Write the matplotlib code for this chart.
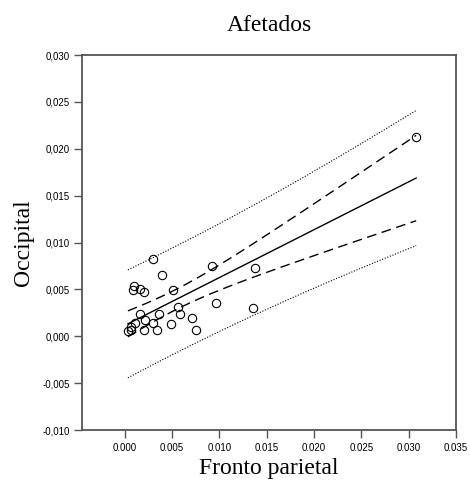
import matplotlib.pyplot as plt
import numpy as np

# Fronto parietal (x) vs Occipital (y)
fronto = [30.8, 3.0, 3.9, 1.0, 0.9, 1.6, 2.1, 5.1, 9.2, 13.8, 9.7, 13.6, 5.6,
          5.8, 7.1, 7.5, 4.9, 3.45, 3.6, 1.6, 2.2, 3.0, 1.06, 2.1, 0.63, 0.35, 0.7]
occipital = [21.3, 8.2, 6.5, 5.4, 4.9, 5.0, 4.7, 4.9, 7.5, 7.3, 3.5, 3.0, 3.1,
             2.4, 2.0, 0.7, 1.35, 0.7, 2.4, 2.4, 1.7, 1.4, 1.4, 0.64, 1.0, 0.57, 0.7]
x = np.array(fronto) / 1000
y = np.array(occipital) / 1000

xticks = [0.000, 0.005, 0.010, 0.015, 0.020, 0.025, 0.030, 0.035]
yticks = [-0.010, -0.005, 0.000, 0.005, 0.010, 0.015, 0.020, 0.025, 0.030]

# linear fit with 95% mean CI and prediction interval
n = len(x)
slope, intercept = np.polyfit(x, y, 1)
resid = y - (intercept + slope * x)
s = np.sqrt(np.sum(resid ** 2) / (n - 2))
t = 2.052  # t(0.975, n-2)
xs = np.linspace(x.min(), x.max(), 200)
fit = intercept + slope * xs
sxx = np.sum((x - x.mean()) ** 2)
ci = t * s * np.sqrt(1 / n + (xs - x.mean()) ** 2 / sxx)
pi = t * s * np.sqrt(1 + 1 / n + (xs - x.mean()) ** 2 / sxx)

fig = plt.figure(figsize=(4.7, 4.86), dpi=100)
ax = fig.add_axes([0.1745, 0.1152, 0.7955, 0.7716])

ax.plot(xs, fit, color='black', lw=1.0)
ax.plot(xs, fit + ci, color='black', lw=1.0, dashes=(7, 4))
ax.plot(xs, fit - ci, color='black', lw=1.0, dashes=(7, 4))
ax.plot(xs, fit + pi, color='black', lw=0.8, dashes=(1, 1.5))
ax.plot(xs, fit - pi, color='black', lw=0.8, dashes=(1, 1.5))
ax.plot(x, y, 'o', mfc='none', mec='black', ms=6, mew=0.8)

ax.set_xlim(-0.0045, 0.035)
ax.set_ylim(-0.010, 0.030)
ax.set_xticks(xticks)
ax.set_xticklabels([f'{v:.3f}' for v in xticks])
ax.set_yticks(yticks)
ax.set_yticklabels([f'{v:.3f}'.replace('.', ',') for v in yticks])

for sp in ax.spines.values():
    sp.set_color('#555555')
    sp.set_linewidth(1.3)
ax.tick_params(direction='out', length=6, width=1.0, color='#555555',
               labelsize=7, pad=3)
for lbl in ax.get_xticklabels() + ax.get_yticklabels():
    lbl.set_family('Liberation Sans')

serif = 'Liberation Serif'
ax.set_title('Afetados', family=serif, fontsize=17, pad=17)
ax.set_xlabel('Fronto parietal', family=serif, fontsize=17, labelpad=4)
ax.set_ylabel('Occipital', family=serif, fontsize=17, labelpad=6)

fig.savefig('out.png', dpi=100, facecolor='white')
